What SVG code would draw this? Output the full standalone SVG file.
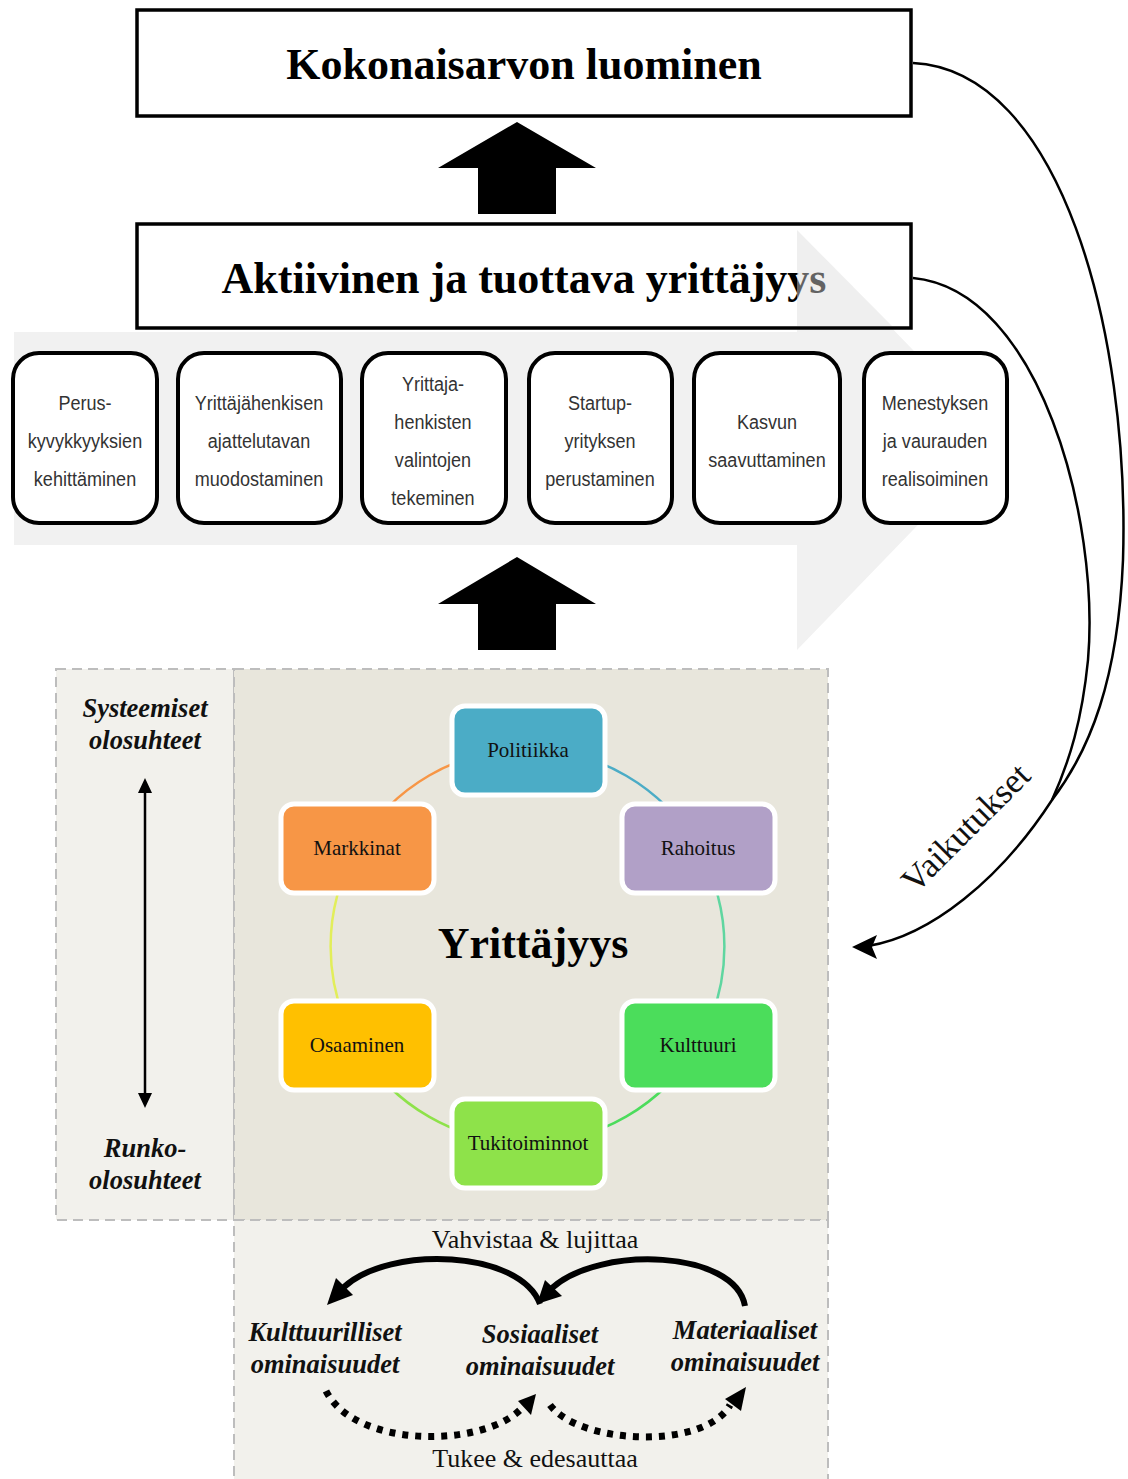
<svg xmlns="http://www.w3.org/2000/svg" width="1128" height="1479" viewBox="0 0 1128 1479">
<defs>
<style>
.big{font-family:"Liberation Serif",serif;font-weight:bold;font-size:44px;fill:#000;text-anchor:middle}
.step{font-family:"Liberation Sans",sans-serif;font-size:21px;fill:#333;text-anchor:middle}
.stepbox{fill:#fff;stroke:#000;stroke-width:4}
.node rect{stroke:#fff;stroke-width:5}
.node text{font-family:"Liberation Serif",serif;font-size:21px;fill:#111;text-anchor:middle}
.bi{font-family:"Liberation Serif",serif;font-weight:bold;font-style:italic;font-size:26.5px;fill:#111;text-anchor:middle}
.ser{font-family:"Liberation Serif",serif;font-size:26px;fill:#111;text-anchor:middle}
.panel{stroke:#bdbdbd;stroke-width:2;stroke-dasharray:10 6}
</style>
</defs>

<!-- background gray arrow -->
<polygon points="14,332 797,332 797,230 1000,440 797,650 797,545 14,545" fill="#f1f1f1"/>

<!-- top boxes -->
<g id="kokonaisarvo">
<rect x="137" y="10" width="774" height="106" fill="#fff" stroke="#000" stroke-width="3.5"/>
<text class="big" x="524" y="79">Kokonaisarvon luominen</text>
</g>
<g id="aktiivinen">
<rect x="137" y="224" width="774" height="104" fill="#fff" stroke="#000" stroke-width="3.5"/>
<text class="big" x="524" y="293">Aktiivinen ja tuottava yrittäjyys</text>
</g>
<polygon points="797,230 892,326 797,326" fill="#dcdcdc" fill-opacity="0.45"/>

<!-- big black up arrows -->
<g id="arrow-up-1"><polygon points="478,214 556,214 556,168 596,168 517,122 438,168 478,168" fill="#000"/></g>
<g id="arrow-up-2"><polygon points="478,650 556,650 556,604 596,604 517,557 438,604 478,604" fill="#000"/></g>

<!-- steps -->
<g id="step1"><rect class="stepbox" x="13" y="353" width="144" height="170" rx="26"/>
<g transform="translate(85 0) scale(0.86 1)"><text class="step" x="0" y="410">Perus-</text><text class="step" x="0" y="448">kyvykkyyksien</text><text class="step" x="0" y="486">kehittäminen</text></g></g>
<g id="step2"><rect class="stepbox" x="178" y="353" width="163" height="170" rx="26"/>
<g transform="translate(259 0) scale(0.86 1)"><text class="step" x="0" y="410">Yrittäjähenkisen</text><text class="step" x="0" y="448">ajattelutavan</text><text class="step" x="0" y="486">muodostaminen</text></g></g>
<g id="step3"><rect class="stepbox" x="362" y="353" width="144" height="170" rx="26"/>
<g transform="translate(433 0) scale(0.86 1)"><text class="step" x="0" y="391">Yrittaja-</text><text class="step" x="0" y="429">henkisten</text><text class="step" x="0" y="467">valintojen</text><text class="step" x="0" y="505">tekeminen</text></g></g>
<g id="step4"><rect class="stepbox" x="529" y="353" width="143" height="170" rx="26"/>
<g transform="translate(600 0) scale(0.86 1)"><text class="step" x="0" y="410">Startup-</text><text class="step" x="0" y="448">yrityksen</text><text class="step" x="0" y="486">perustaminen</text></g></g>
<g id="step5"><rect class="stepbox" x="694" y="353" width="146" height="170" rx="26"/>
<g transform="translate(767 0) scale(0.86 1)"><text class="step" x="0" y="429">Kasvun</text><text class="step" x="0" y="467">saavuttaminen</text></g></g>
<g id="step6"><rect class="stepbox" x="864" y="353" width="143" height="170" rx="26"/>
<g transform="translate(935 0) scale(0.86 1)"><text class="step" x="0" y="410">Menestyksen</text><text class="step" x="0" y="448">ja vaurauden</text><text class="step" x="0" y="486">realisoiminen</text></g></g>

<!-- lower panels -->
<rect class="panel" x="56" y="669" width="178" height="551" fill="#f2f1ec"/>
<rect class="panel" x="234" y="669" width="594" height="551" fill="#e8e6dc"/>
<rect class="panel" x="234" y="1220" width="594" height="270" fill="#f2f1ec"/>

<!-- left panel -->
<g id="systeemiset"><text class="bi" x="145" y="717">Systeemiset</text><text class="bi" x="145" y="749">olosuhteet</text></g>
<g id="runko"><text class="bi" x="145" y="1157">Runko-</text><text class="bi" x="145" y="1189">olosuhteet</text></g>

<!-- ring -->
<g id="ring" fill="none" stroke-width="2.5">
<path d="M528,749 A197,197 0 0,1 698,848" stroke="#4bacc6"/>
<path d="M698,848 A197,197 0 0,1 698,1045" stroke="#5fd6a0"/>
<path d="M698,1045 A197,197 0 0,1 528,1143" stroke="#4cdc5c"/>
<path d="M528,1143 A197,197 0 0,1 357,1045" stroke="#8ee24a"/>
<path d="M357,1045 A197,197 0 0,1 357,848" stroke="#e2ee5a"/>
<path d="M357,848 A197,197 0 0,1 528,749" stroke="#f79646"/>
</g>
<text class="big" x="533" y="958">Yrittäjyys</text>

<g id="politiikka" class="node"><rect x="452" y="706" width="153" height="89" rx="13" fill="#4bacc6"/><text x="528" y="757">Politiikka</text></g>
<g id="rahoitus" class="node"><rect x="622" y="804" width="153" height="89" rx="13" fill="#b1a0c7"/><text x="698" y="855">Rahoitus</text></g>
<g id="kulttuuri" class="node"><rect x="622" y="1001" width="153" height="89" rx="13" fill="#4bdd5b"/><text x="698" y="1052">Kulttuuri</text></g>
<g id="tukitoiminnot" class="node"><rect x="452" y="1099" width="153" height="89" rx="13" fill="#8ee24a"/><text x="528" y="1150">Tukitoiminnot</text></g>
<g id="osaaminen" class="node"><rect x="281" y="1001" width="153" height="89" rx="13" fill="#ffc000"/><text x="357" y="1052">Osaaminen</text></g>
<g id="markkinat" class="node"><rect x="281" y="804" width="153" height="89" rx="13" fill="#f79646"/><text x="357" y="855">Markkinat</text></g>

<!-- bottom texts -->
<text class="ser" x="535" y="1248">Vahvistaa &amp; lujittaa</text>
<g id="kulttuurilliset"><text class="bi" x="325" y="1341">Kulttuurilliset</text><text class="bi" x="325" y="1373">ominaisuudet</text></g>
<g id="sosiaaliset"><text class="bi" x="540" y="1343">Sosiaaliset</text><text class="bi" x="540" y="1375">ominaisuudet</text></g>
<g id="materiaaliset"><text class="bi" x="745" y="1339">Materiaaliset</text><text class="bi" x="745" y="1371">ominaisuudet</text></g>
<text class="ser" x="535" y="1467">Tukee &amp; edesauttaa</text>

<!-- connectors -->
<g id="connectors" fill="none" stroke="#000">
<line x1="145" y1="792" x2="145" y2="1095" stroke-width="2.5"/>
<polygon points="145,778 138,793 152,793" fill="#000" stroke="none"/>
<polygon points="145,1108 138,1093 152,1093" fill="#000" stroke="none"/>

<path d="M540,1304 C520,1250 390,1245 344,1287" stroke-width="6"/>
<polygon points="327,1305 336,1278 353,1295" fill="#000" stroke="none"/>
<path d="M745,1306 C735,1250 600,1245 552,1288" stroke-width="6"/>
<polygon points="537,1304 545,1280 562,1296" fill="#000" stroke="none"/>

<path d="M326,1391 C355,1448 480,1448 520,1410" stroke-width="7" stroke-dasharray="6 7"/>
<polygon points="536,1394 518,1401 531,1415" fill="#000" stroke="none"/>
<path d="M550,1405 C580,1445 705,1450 730,1405" stroke-width="7" stroke-dasharray="6 7"/>
<polygon points="746,1387 725,1399 741,1411" fill="#000" stroke="none"/>

<path d="M913,63 C1060,70 1130,330 1123,560 C1118,680 1090,750 1052,800 C1000,880 930,936 868,946" stroke-width="2.5"/>
<path d="M913,278 C1040,290 1100,520 1088,660 C1082,720 1070,760 1052,800" stroke-width="2.5"/>
<polygon points="852,947 877,935 872,947 877,959" fill="#000" stroke="none"/>
</g>
<text class="ser" x="974" y="836" transform="rotate(-45 974 836)" style="font-size:35px">Vaikutukset</text>
</svg>
